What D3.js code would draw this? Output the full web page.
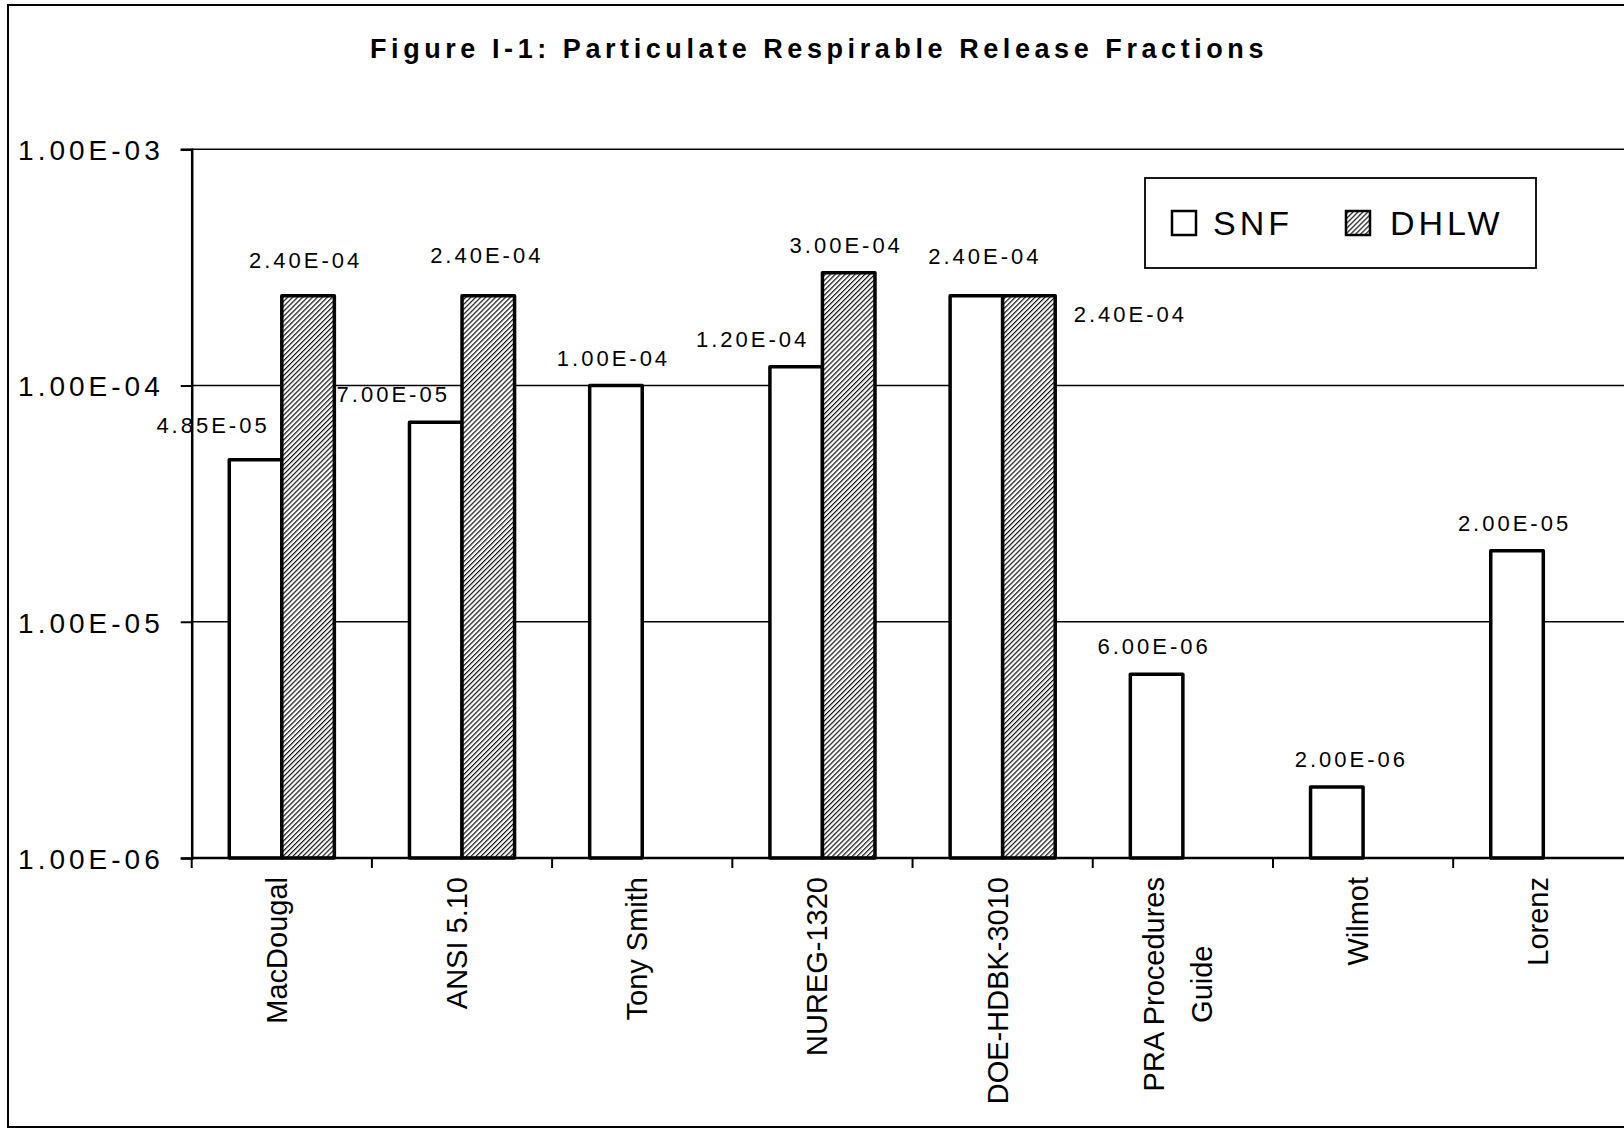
<!DOCTYPE html>
<html>
<head>
<meta charset="utf-8">
<script src="https://cdn.jsdelivr.net/npm/d3@7"></script>
<style>
  body { margin: 0; background: #fff; }
  svg { display: block; font-family: "Liberation Sans", Arial, sans-serif; }
</style>
</head>
<body>
<div id="chart"></div>
<script>
const width = 1624;
const height = 1129;

const titleText = "Figure I-1:  Particulate Respirable Release Fractions";

const categories = ["MacDougal", "ANSI 5.10", "Tony Smith", "NUREG-1320", "DOE-HDBK-3010",
  "PRA Procedures\nGuide", "Wilmot", "Lorenz"];
const seriesNames = ["SNF", "DHLW"];
const snfValues = [4.85e-5, 7.0e-5, 1.0e-4, 1.2e-4, 2.4e-4, 6.0e-6, 2.0e-6, 2.0e-5];
const dhlwValues = [2.4e-4, 2.4e-4, null, 3.0e-4, 2.4e-4, null, null, null];
const yTickValues = [1e-6, 1e-5, 1e-4, 1e-3];

// data labels were dragged around by hand in the original, nudge them [dx, dy]
const labelNudges = {
  "MacDougal|SNF": [-40, -7],
  "MacDougal|DHLW": [0, -8],
  "ANSI 5.10|SNF": [-40, 0],
  "ANSI 5.10|DHLW": [1, -13],
  "NUREG-1320|SNF": [-41, 0],
  "DOE-HDBK-3010|SNF": [11, -12],
  "DOE-HDBK-3010|DHLW": [104, 46],
  "Wilmot|SNF": [17, 0]
};

const plot = { left: 191.7, top: 149.3, right: 1633.4, bottom: 858 };

// Excel style 1.00E-04
function sci(v) {
  const e = Math.floor(Math.log10(v) + 1e-9);
  const m = v / Math.pow(10, e);
  const sign = e < 0 ? "-" : "+";
  return m.toFixed(2) + "E" + sign + String(Math.abs(e)).padStart(2, "0");
}

const rows = [];
categories.forEach((c, i) => {
  if (snfValues[i] != null) rows.push({ cat: c, series: "SNF", value: snfValues[i] });
  if (dhlwValues[i] != null) rows.push({ cat: c, series: "DHLW", value: dhlwValues[i] });
});

const x = d3.scaleBand().domain(categories).range([plot.left, plot.right]).padding(0);
const barW = x.bandwidth() / 3.43;
const sidePad = (x.bandwidth() - 2 * barW) / 2;
const x1 = d3.scaleBand().domain(seriesNames).range([sidePad, x.bandwidth() - sidePad]);
const y = d3.scaleLog().domain([1e-6, 1e-3]).range([plot.bottom, plot.top]);

const svg = d3.select("#chart")
  .append("svg")
  .attr("width", width)
  .attr("height", height);

svg.append("rect").attr("width", width).attr("height", height).attr("fill", "#fff");

const defs = svg.append("defs");
const hatch = defs.append("pattern")
  .attr("id", "hatch")
  .attr("patternUnits", "userSpaceOnUse")
  .attr("width", 3.5)
  .attr("height", 3.5)
  .attr("patternTransform", "rotate(45)");
hatch.append("rect")
  .attr("width", 3.5).attr("height", 3.5)
  .attr("fill", "#fff");
hatch.append("line")
  .attr("x1", 0).attr("y1", 0).attr("x2", 0).attr("y2", 3.5)
  .attr("stroke", "#111")
  .attr("stroke-width", 2.4);

// outer chart frame
svg.append("rect")
  .attr("x", 8).attr("y", 5)
  .attr("width", 1640).attr("height", 1122)
  .attr("fill", "none")
  .attr("stroke", "#000")
  .attr("stroke-width", 2);

// title
const title = svg.append("text")
  .attr("x", 370)
  .attr("y", 58)
  .attr("font-size", 27)
  .attr("font-weight", "bold")
  .text(titleText);
const rawW = title.node().getComputedTextLength();
title.attr("letter-spacing", ((898 - rawW) / (titleText.length - 1)) + "px");

// gridlines
svg.append("g")
  .selectAll("line")
  .data(yTickValues.filter(d => d > 1e-6))
  .join("line")
  .attr("x1", plot.left).attr("x2", plot.right)
  .attr("y1", d => y(d)).attr("y2", d => y(d))
  .attr("stroke", "#000")
  .attr("stroke-width", 1.6);

// y axis
const yAxis = svg.append("g")
  .attr("transform", `translate(${plot.left},0)`)
  .call(d3.axisLeft(y).tickValues(yTickValues).tickFormat(sci).tickSize(11).tickPadding(0));
yAxis.select(".domain").attr("stroke", "#000").attr("stroke-width", 2.5);
yAxis.selectAll(".tick line").attr("stroke", "#000").attr("stroke-width", 2);
yAxis.selectAll(".tick text")
  .attr("x", -28)
  .attr("dy", "0.37em")
  .attr("font-size", 28)
  .attr("letter-spacing", "4px")
  .attr("font-family", "'Liberation Sans', Arial, sans-serif")
  .attr("fill", "#000");

// bars
svg.append("g")
  .selectAll("rect")
  .data(rows)
  .join("rect")
  .attr("x", d => x(d.cat) + x1(d.series))
  .attr("y", d => y(d.value))
  .attr("width", barW)
  .attr("height", d => plot.bottom - y(d.value))
  .attr("fill", d => d.series === "SNF" ? "#fff" : "url(#hatch)")
  .attr("stroke", "#000")
  .attr("stroke-width", 3.5)
  .attr("stroke-linejoin", "round");

// x axis baseline and ticks
svg.append("line")
  .attr("x1", plot.left).attr("x2", plot.right)
  .attr("y1", plot.bottom).attr("y2", plot.bottom)
  .attr("stroke", "#000")
  .attr("stroke-width", 2.5);

svg.append("g")
  .selectAll("line")
  .data(categories.map(c => x(c)).concat([plot.right]))
  .join("line")
  .attr("x1", d => d).attr("x2", d => d)
  .attr("y1", plot.bottom).attr("y2", plot.bottom + 10)
  .attr("stroke", "#000")
  .attr("stroke-width", 2);

// category labels, rotated, reading bottom to top
categories.forEach(c => {
  const lines = c.split("\n");
  const g = svg.append("g")
    .attr("transform", `translate(${x(c) + x.bandwidth() / 2},877) rotate(-90)`);
  const texts = lines.map((line, i) => g.append("text")
    .attr("text-anchor", "middle")
    .attr("y", 5 + (i - (lines.length - 1) / 2) * 48)
    .attr("font-size", 29)
    .attr("fill", "#000")
    .text(line));
  const maxLen = d3.max(texts, t => t.node().getComputedTextLength());
  texts.forEach(t => t.attr("x", -maxLen / 2));
});

// value labels
svg.append("g")
  .selectAll("text")
  .data(rows)
  .join("text")
  .attr("x", d => x(d.cat) + x1(d.series) + barW / 2 - 2.5 + (labelNudges[d.cat + "|" + d.series] || [0, 0])[0])
  .attr("y", d => y(d.value) - 20 + (labelNudges[d.cat + "|" + d.series] || [0, 0])[1])
  .attr("text-anchor", "middle")
  .attr("font-size", 22)
  .attr("letter-spacing", "3px")
  .attr("fill", "#000")
  .text(d => sci(d.value));

// legend
const legend = svg.append("g");
legend.append("rect")
  .attr("x", 1145).attr("y", 178)
  .attr("width", 391).attr("height", 90)
  .attr("fill", "#fff")
  .attr("stroke", "#000")
  .attr("stroke-width", 1.8);

const legendItems = [
  { name: seriesNames[0], swatchX: 1172, textX: 1213 },
  { name: seriesNames[1], swatchX: 1346, textX: 1390 }
];
legendItems.forEach(item => {
  legend.append("rect")
    .attr("x", item.swatchX).attr("y", 211)
    .attr("width", 24).attr("height", 24)
    .attr("fill", item.name === "SNF" ? "#fff" : "url(#hatch)")
    .attr("stroke", "#000")
    .attr("stroke-width", 2.5);
  legend.append("text")
    .attr("x", item.textX).attr("y", 235)
    .attr("font-size", 34)
    .attr("letter-spacing", "4px")
    .attr("fill", "#000")
    .text(item.name);
});
</script>
</body>
</html>
